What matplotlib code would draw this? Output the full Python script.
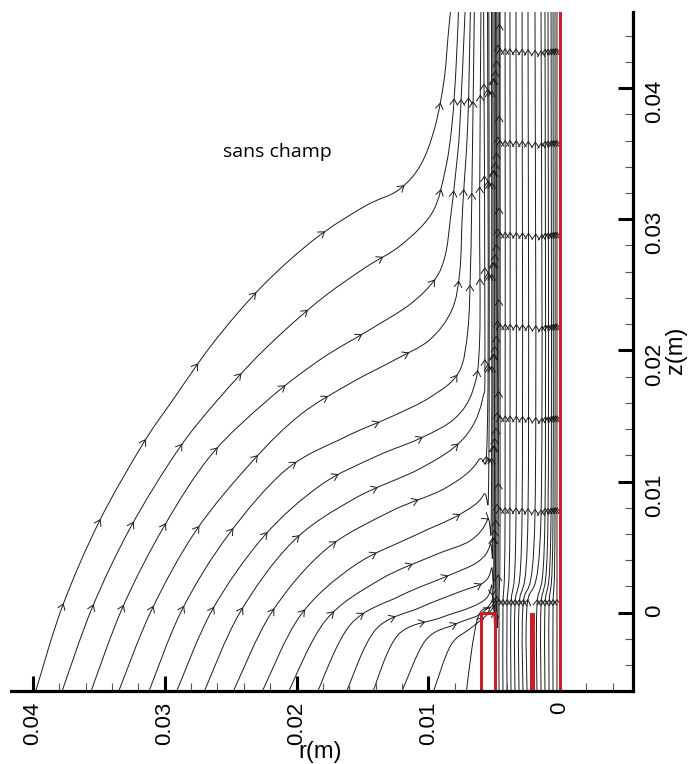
import numpy as np
import matplotlib.pyplot as plt
from matplotlib.collections import LineCollection
from matplotlib.patches import Rectangle, PathPatch
from matplotlib.path import Path
from matplotlib.ticker import FixedLocator, MultipleLocator, FuncFormatter

plt.rcParams["font.family"] = ["Liberation Sans", "DejaVu Sans"]

RED = "#c8202a"
INK = "#1a1a1a"

# Streamlines coming in from the outer region (r, z in metres)
stream_r = [
    [.0398, .0378, .0350, .0317, .0294, .0263, .0226, .0186, .0148, .0123, .0106, .0095,
     .0088, .0085, .0083],
    [.0378, .0355, .0326, .0290, .0260, .0225, .0184, .0148, .0121, .0097, .0087, .0082,
     .0079, .0077],
    [.0356, .0332, .0301, .0265, .0222, .0182, .0144, .0114, .0095, .0087, .0083, .0079,
     .0076, .0072],
    [.0335, .0310, .0276, .0233, .0197, .0159, .0125, .0099, .0082, .0076, .0074, .0070,
     .0068],
    [.0312, .0287, .0252, .0208, .0163, .0129, .0099, .0077, .0070, .0068, .0067, .0065],
    [.0291, .0264, .0225, .0182, .0140, .0106, .0080, .0066, .0061, .0061, .0060],
    [.0270, .0243, .0203, .0156, .0106, .0074, .0059, .0057, .0058],
    [.0248, .0219, .0178, .0129, .0087, .0062, .0055, .0055],
    [.0226, .0197, .0156, .0110, .0076, .0058, .0054, .0054],
    [.0206, .0178, .0137, .0095, .0068, .0055, .0052, .0052],
    [.0184, .0159, .0121, .0083, .0062, .0053, .0051, .0051],
    [.0162, .0140, .0106, .0076, .0058, .0052, .0050, .0050],
    [.0142, .0123, .0091, .0068, .0056, .0052, .0050, .0049],
    [.0120, .0102, .0080, .0062, .0055, .0051, .0049, .0048],
    [.0096, .0083, .0068, .0058, .0053, .0050, .0048, .0047],
    [.0071, .0067, .0063, .0059, .0053, .0049, .0047, .0046],
]
stream_z = [
    [-.0060, .0004, .0069, .0128, .0162, .0206, .0249, .0285, .0310, .0322, .0341, .0370,
     .0406, .0439, .0460],
    [-.0060, .0004, .0065, .0124, .0162, .0200, .0237, .0263, .0280, .0305, .0338, .0372,
     .0414, .0460],
    [-.0060, .0004, .0065, .0120, .0162, .0193, .0216, .0235, .0254, .0273, .0302, .0337,
     .0372, .0460],
    [-.0060, .0002, .0063, .0116, .0151, .0175, .0193, .0208, .0231, .0261, .0307, .0373,
     .0460],
    [-.0060, .0002, .0059, .0109, .0134, .0149, .0164, .0183, .0215, .0261, .0314, .0460],
    [-.0060, .0002, .0058, .0097, .0119, .0133, .0148, .0170, .0208, .0314, .0460],
    [-.0060, .0000, .0054, .0087, .0110, .0132, .0162, .0208, .0460],
    [-.0060, .0000, .0048, .0077, .0095, .0116, .0147, .0460],
    [-.0060, -.0002, .0036, .0059, .0075, .0090, .0116, .0460],
    [-.0060, -.0006, .0025, .0044, .0055, .0071, .0094, .0460],
    [-.0060, -.0009, .0013, .0029, .0039, .0052, .0078, .0460],
    [-.0060, -.0013, .0004, .0016, .0023, .0034, .0055, .0460],
    [-.0060, -.0017, -.0004, .0004, .0011, .0021, .0040, .0460],
    [-.0060, -.0021, -.0009, -.0002, .0004, .0011, .0025, .0460],
    [-.0060, -.0025, -.0012, -.0004, .0001, .0006, .0017, .0460],
    [-.0060, -.0028, -.0006, .0002, .0004, .0010, .0025, .0460],
]

# Near-axis streamlines: radius at the bottom and at the top
inner_r_bottom = [.00463, .00433, .00402, .00372, .00342, .00311, .00281, .00250,
                  .00175, .00144, .00114, .00083, .00053, .00023]
inner_r_top = [.00455, .00417, .00380, .00334, .00288, .00243, .00190, .00144,
               .00114, .00091, .00068, .00053, .00038, .00023]
inner_z = [-.0060, .0005, .0075, .0460]

# Electrodes (red)
ring_r = (.0049, .0060)
ring_top = 0.0
bar_r = (.0020, .0023)

r_ticks = [0.0, 0.01, 0.02, 0.03, 0.04]
z_ticks = [0.0, 0.01, 0.02, 0.03, 0.04]

ARROW_STEP = 0.0070   # arc length between arrow heads
HEAD_LEN = 0.00045
HEAD_HALF = 0.00030


def smooth_path(r, z):
    """Cubic Bezier path through the read points (Catmull-Rom tangents)."""
    pts = np.column_stack([r, z])
    p = np.vstack([pts[0], pts, pts[-1]])
    verts, codes = [pts[0]], [Path.MOVETO]
    for i in range(1, len(p) - 2):
        c1 = p[i] + (p[i + 1] - p[i - 1]) / 6
        c2 = p[i + 1] - (p[i + 2] - p[i]) / 6
        verts += [c1, c2, p[i + 1]]
        codes += [Path.CURVE4] * 3
    return Path(np.array(verts), codes)


def arrow_heads(path):
    v = path.vertices
    t = np.linspace(0, 1, 30)[:, None]
    pts = [v[0]]
    for k in range(1, len(v), 3):
        p0, c1, c2, p3 = v[k - 1], v[k], v[k + 1], v[k + 2]
        b = ((1 - t) ** 3 * p0 + 3 * (1 - t) ** 2 * t * c1
             + 3 * (1 - t) * t ** 2 * c2 + t ** 3 * p3)
        pts.extend(b[1:])
    pts = np.array(pts)
    seg = np.diff(pts, axis=0)
    seglen = np.hypot(seg[:, 0], seg[:, 1])
    keep = seglen > 0
    seg, seglen = seg[keep], seglen[keep]
    start = pts[:-1][keep]
    cum = np.concatenate([[0], np.cumsum(seglen)])
    heads = []
    s = ARROW_STEP
    while s < cum[-1]:
        i = np.searchsorted(cum, s) - 1
        tip = start[i] + (s - cum[i]) / seglen[i] * seg[i]
        d = seg[i] / seglen[i]
        n = np.array([-d[1], d[0]])
        if tip[1] < 0.0457:
            heads.append([tip - HEAD_LEN * d + HEAD_HALF * n, tip,
                          tip - HEAD_LEN * d - HEAD_HALF * n])
        s += ARROW_STEP
    return heads


fig = plt.figure(figsize=(6.9, 7.64), dpi=100)
ax = fig.add_axes([11 / 690, 73 / 764, 622 / 690, 679 / 764])

lines = list(zip(stream_r, stream_z))
lines += [([rb, rb, rt, rt], inner_z) for rb, rt in zip(inner_r_bottom, inner_r_top)]

heads = []
for r, z in lines:
    path = smooth_path(r, z)
    ax.add_patch(PathPatch(path, fill=False, ec=INK, lw=0.7))
    heads += arrow_heads(path)

ax.add_collection(LineCollection(heads, colors=INK, linewidths=0.7))

ax.add_patch(Rectangle((ring_r[0], -0.0065), ring_r[1] - ring_r[0], ring_top + 0.0065,
                       fill=False, ec=RED, lw=2.2, zorder=3))
ax.add_patch(Rectangle((bar_r[0], -0.0065), bar_r[1] - bar_r[0], ring_top + 0.0065,
                       fc=RED, ec=RED, lw=0.8, zorder=3))
ax.plot([0, 0], [-0.0065, 0.047], color=RED, lw=2.2, zorder=3)

ax.set_xlim(0.04167, -0.00554)
ax.set_ylim(-0.00597, 0.0458)

for side in ("left", "top"):
    ax.spines[side].set_visible(False)
for side in ("bottom", "right"):
    ax.spines[side].set_linewidth(2.3)
    ax.spines[side].set_zorder(5)

fmt = FuncFormatter(lambda v, p: "0" if abs(v) < 1e-9 else f"{v:.2f}")
ax.xaxis.set_major_locator(FixedLocator(r_ticks))
ax.xaxis.set_minor_locator(MultipleLocator(0.002))
ax.xaxis.set_major_formatter(fmt)
ax.yaxis.tick_right()
ax.yaxis.set_major_locator(FixedLocator(z_ticks))
ax.yaxis.set_minor_locator(MultipleLocator(0.002))
ax.yaxis.set_major_formatter(fmt)

ax.tick_params(axis="both", which="major", direction="in", length=11, width=2.2,
               labelsize=16, labelrotation=90, pad=8, zorder=6)
ax.tick_params(axis="both", which="minor", direction="in", length=6, width=0.8,
               color="#555555")
ax.tick_params(axis="y", which="both", left=False, right=True)

fig.text(320 / 690, 0.001, "r(m)", ha="center", va="bottom", fontsize=17)
fig.text(676 / 690, 1 - 350 / 764, "z(m)", rotation=90, ha="center", va="center",
         fontsize=17)
fig.text(223 / 690, 1 - 157 / 764, "sans champ", ha="left", va="baseline",
         fontsize=14, family=["Open Sans", "DejaVu Sans"])

fig.savefig("out.png", dpi=100)
